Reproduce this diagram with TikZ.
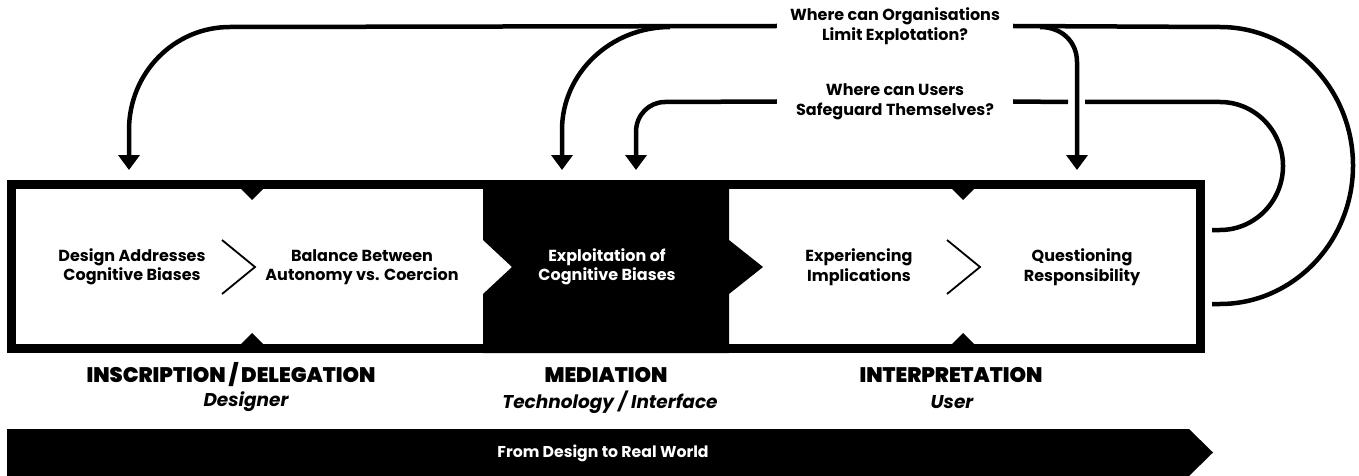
\documentclass[tikz,border=0pt]{standalone}
\usepackage{fontspec}
\setmainfont{Poppins}[BoldFont={Poppins Bold},BoldItalicFont={Poppins Bold Italic}]
\newfontfamily\headfont{Poppins Black}
\usetikzlibrary{arrows.meta}
\begin{document}
\begin{tikzpicture}[x=1pt,y=-1pt,
  conn/.style={line width=4.5pt},
  arr/.style={conn,-{Triangle[width=21pt,length=15pt]}},
  boxtext/.style={align=center,font=\bfseries\fontsize{16}{19.5}\selectfont,inner sep=0pt},
  qtext/.style={align=center,font=\bfseries\fontsize{16}{20}\selectfont,inner sep=0pt,minimum width=236pt},
  headtext/.style={font=\headfont\fontsize{21}{22}\selectfont,inner sep=0pt},
  subtext/.style={font=\bfseries\itshape\fontsize{18.5}{20}\selectfont,inner sep=0pt},
  notch/.style={fill=black},
  chev/.style={line width=1.8pt}
]
\useasboundingbox (0,0) rectangle (1359,476);
% black middle stage
\fill (483,180) -- (729,180) -- (729,240) -- (763,267) -- (729,294) -- (729,353) -- (483,353) -- (483,294) -- (512,267) -- (483,240) -- cycle;
% frame
\draw[line width=9pt] (11.5,184.5) rectangle (1200.5,348.5);
% notches
\fill[notch] (241,189) -- (263,189) -- (252,200) -- cycle;
\fill[notch] (241,344) -- (263,344) -- (252,333) -- cycle;
\fill[notch] (952,189) -- (974,189) -- (963,200) -- cycle;
\fill[notch] (952,344) -- (974,344) -- (963,333) -- cycle;
% chevrons
\draw[chev] (222,240) -- (255,267) -- (222,294);
\draw[chev] (947,240) -- (980,267) -- (947,294);
% stage texts
\node[boxtext] (b1) at (132,267) {Design Addresses\\Cognitive Biases};
\node[boxtext] (b2) at (362,267) {Balance Between\\Autonomy vs. Coercion};
\node[boxtext,text=white] (b3) at (607,267) {Exploitation of\\Cognitive Biases};
\node[boxtext] (b4) at (859,267) {Experiencing\\Implications};
\node[boxtext] (b5) at (1082,267) {Questioning\\Responsibility};
% questions
\node[qtext] (q1) at (895,26) {Where can Organisations\\Limit Explotation?};
\node[qtext] (q2) at (895,101.5) {Where can Users\\Safeguard Themselves?};
% arrow targets and ends
\coordinate (t1) at (129,170);
\coordinate (t2) at (562,170);
\coordinate (t3) at (636,170);
\coordinate (t4) at (1077,170);
\coordinate (e1) at (1212,304);
\coordinate (e2) at (1212,230);
% connectors
\draw[arr] (q1.west) -- (230,27) .. controls (174,27) and (129,73) .. (129,130) -- (t1);
\draw[arr] (670,27) .. controls (611,27) and (562,73) .. (562,130) -- (t2);
\draw[arr] (q2.west) -- (665,102) .. controls (649,102) and (636,115) .. (636,132) -- (t3);
\draw[conn] (q1.east) -- (1220,27) .. controls (1293,27) and (1353,89) .. (1353,165.5) .. controls (1353,242) and (1293,304) .. (1220,304) -- (e1);
\draw[conn] (q2.east) -- (1068,102);
\draw[conn] (1085,102) -- (1220,102) .. controls (1255,102) and (1283,131) .. (1283,166) .. controls (1283,201) and (1255,230) .. (1220,230) -- (e2);
\draw[arr] (1040,27) .. controls (1062,27) and (1077,42) .. (1077,62) -- (t4);
% phase labels
\node[headtext] (h1) at (231,375) {INSCRIPTION / DELEGATION};
\node[subtext] (s1) at (246,402) {Designer};
\node[headtext] (h2) at (606,375) {MEDIATION};
\node[subtext] (s2) at (610,402) {Technology / Interface};
\node[headtext] (h3) at (951,375) {INTERPRETATION};
\node[subtext] (s3) at (952,402) {User};
% bottom arrow
\fill (7,429) -- (1189,429) -- (1213,452.5) -- (1189,476) -- (7,476) -- cycle;
\node[boxtext,text=white,font=\bfseries\fontsize{15.7}{16}\selectfont] (w) at (603,453) {From Design to Real World};
\end{tikzpicture}
\end{document}
